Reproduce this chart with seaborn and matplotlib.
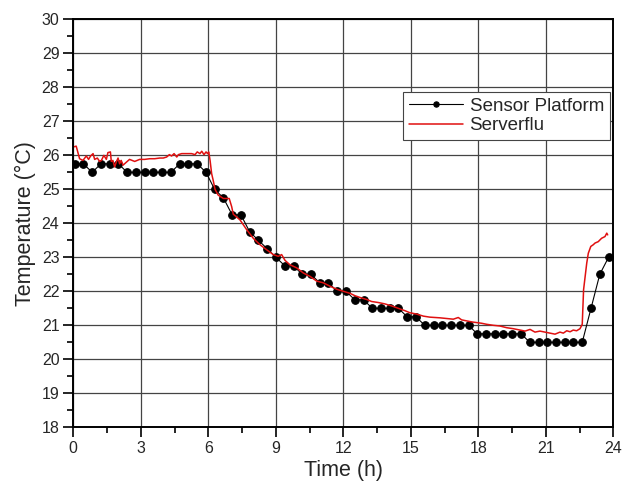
import numpy as np
import pandas as pd
import matplotlib
matplotlib.use("Agg")
import matplotlib.pyplot as plt
import seaborn as sns
from matplotlib.ticker import MultipleLocator

# Sensor Platform readings (black dots)
sensor_time = [0.06, 0.45, 0.84, 1.23, 1.62, 2.01, 2.39, 2.78, 3.17, 3.56,
               3.95, 4.34, 4.73, 5.12, 5.51, 5.90, 6.28, 6.67, 7.06, 7.45,
               7.84, 8.23, 8.62, 9.01, 9.40, 9.79, 10.17, 10.56, 10.95, 11.34,
               11.73, 12.12, 12.51, 12.90, 13.29, 13.68, 14.06, 14.45, 14.84, 15.23,
               15.62, 16.01, 16.40, 16.79, 17.18, 17.57, 17.95, 18.34, 18.73, 19.12,
               19.51, 19.90, 20.29, 20.68, 21.07, 21.46, 21.84, 22.23, 22.62, 23.01,
               23.40, 23.79]
sensor_temp = [25.75, 25.75, 25.5, 25.75, 25.75, 25.75, 25.5, 25.5, 25.5, 25.5,
               25.5, 25.5, 25.75, 25.75, 25.75, 25.5, 25.0, 24.75, 24.25, 24.25,
               23.75, 23.5, 23.25, 23.0, 22.75, 22.75, 22.5, 22.5, 22.25, 22.25,
               22.0, 22.0, 21.75, 21.75, 21.5, 21.5, 21.5, 21.5, 21.25, 21.25,
               21.0, 21.0, 21.0, 21.0, 21.0, 21.0, 20.75, 20.75, 20.75, 20.75,
               20.75, 20.75, 20.5, 20.5, 20.5, 20.5, 20.5, 20.5, 20.5, 21.5,
               22.5, 23.0]

# Serverflu readings (red line)
server_time = [0.03, 0.13, 0.28, 0.43, 0.58, 0.68, 0.77, 0.88, 0.95, 1.07,
               1.17, 1.25, 1.36, 1.47, 1.54, 1.65, 1.69, 1.76, 1.84, 1.91,
               1.99, 2.06, 2.13, 2.21, 2.36, 2.50, 2.73, 2.95, 3.17, 3.40,
               3.62, 3.84, 4.00, 4.15, 4.27, 4.37, 4.48, 4.60, 4.67, 4.82,
               5.04, 5.26, 5.41, 5.51, 5.63, 5.71, 5.81, 5.90, 5.97, 6.02,
               6.08, 6.15, 6.22, 6.30, 6.44, 6.67, 6.93, 7.04, 7.11, 7.41,
               7.71, 8.00, 8.30, 8.60, 8.89, 9.11, 9.26, 9.41, 9.63, 9.93,
               10.22, 10.52, 10.82, 11.11, 11.41, 11.71, 12.00, 12.30, 12.52, 12.74,
               13.04, 13.26, 13.56, 13.85, 14.15, 14.44, 14.74, 14.96, 15.26, 15.56,
               15.85, 16.30, 16.60, 16.89, 17.11, 17.26, 17.48, 17.71, 17.93, 18.15,
               18.37, 18.67, 18.96, 19.26, 19.56, 19.85, 20.08, 20.30, 20.52, 20.74,
               21.04, 21.19, 21.41, 21.63, 21.78, 21.93, 22.08, 22.22, 22.37, 22.52,
               22.62, 22.68, 22.74, 22.82, 22.89, 23.00, 23.11, 23.19, 23.33, 23.48,
               23.63, 23.71, 23.75]
server_temp = [26.25, 26.27, 25.90, 25.85, 25.98, 25.88, 25.98, 26.05, 25.88, 25.92,
               25.82, 25.85, 26.00, 25.88, 26.08, 26.10, 25.82, 25.85, 25.66, 25.80,
               25.92, 25.75, 25.85, 25.71, 25.80, 25.88, 25.82, 25.88, 25.88, 25.90,
               25.90, 25.92, 25.92, 25.95, 26.02, 25.98, 26.05, 25.95, 26.02, 26.05,
               26.05, 26.05, 26.02, 26.10, 26.05, 26.12, 26.02, 26.10, 26.05, 26.10,
               25.85, 25.46, 25.26, 25.00, 24.83, 24.73, 24.73, 24.49, 24.27, 24.10,
               23.81, 23.56, 23.37, 23.22, 23.08, 23.03, 23.08, 22.91, 22.78, 22.69,
               22.54, 22.44, 22.30, 22.25, 22.15, 22.06, 22.00, 21.94, 21.87, 21.82,
               21.76, 21.70, 21.67, 21.63, 21.57, 21.50, 21.43, 21.37, 21.33, 21.27,
               21.24, 21.22, 21.20, 21.18, 21.23, 21.16, 21.13, 21.10, 21.08, 21.06,
               21.03, 21.00, 20.98, 20.93, 20.90, 20.86, 20.83, 20.88, 20.80, 20.83,
               20.79, 20.77, 20.74, 20.80, 20.77, 20.84, 20.81, 20.86, 20.84, 20.90,
               21.03, 22.05, 22.39, 22.83, 23.12, 23.32, 23.37, 23.42, 23.46, 23.56,
               23.61, 23.71, 23.66]

sensor_df = pd.DataFrame({'time': sensor_time, 'temp': sensor_temp})
server_df = pd.DataFrame({'time': server_time, 'temp': server_temp})

sns.set_style("white")
plt.rcParams['font.family'] = ['Liberation Sans', 'DejaVu Sans']

fig = plt.figure(figsize=(6.22, 4.83), dpi=100)
ax = fig.add_axes([0.1178, 0.1153, 0.8682, 0.8447])

sns.lineplot(data=sensor_df, x='time', y='temp', ax=ax, color='black',
             linewidth=0.8, marker='o', markersize=5.5, markeredgecolor='black',
             estimator=None, label='Sensor Platform')
sns.lineplot(data=server_df, x='time', y='temp', ax=ax, color='#e01010',
             linewidth=1.1, estimator=None, label='Serverflu')

ax.set_xlim(0, 24)
ax.set_ylim(18, 30)
ax.xaxis.set_major_locator(MultipleLocator(3))
ax.xaxis.set_minor_locator(MultipleLocator(1.5))
ax.yaxis.set_major_locator(MultipleLocator(1))
ax.yaxis.set_minor_locator(MultipleLocator(0.5))

ax.grid(True, which='major', color='#444444', linewidth=0.9)
ax.set_axisbelow(True)

ax.tick_params(which='major', direction='out', length=7, width=1.2,
               labelsize=11.5, color='black', left=True, bottom=True, pad=3)
ax.tick_params(which='minor', direction='out', length=4, width=1.2,
               color='black', left=True, bottom=True)

for side in ['left', 'right', 'top', 'bottom']:
    ax.spines[side].set_color('black')
    ax.spines[side].set_linewidth(1.4)

ax.set_xlabel('Time (h)', fontsize=15.5, labelpad=3)
ax.set_ylabel('Temperature (°C)', fontsize=15.5, labelpad=4)

leg = ax.legend(loc='upper right', bbox_to_anchor=(0.993, 0.822), fontsize=13.5,
                frameon=True, fancybox=False, framealpha=1, edgecolor='#444444',
                handlelength=2.9, handletextpad=0.35, borderpad=0.3,
                labelspacing=0.12, borderaxespad=0, markerscale=0.7)
leg.get_frame().set_linewidth(0.8)

plt.savefig('out.png', dpi=100)
